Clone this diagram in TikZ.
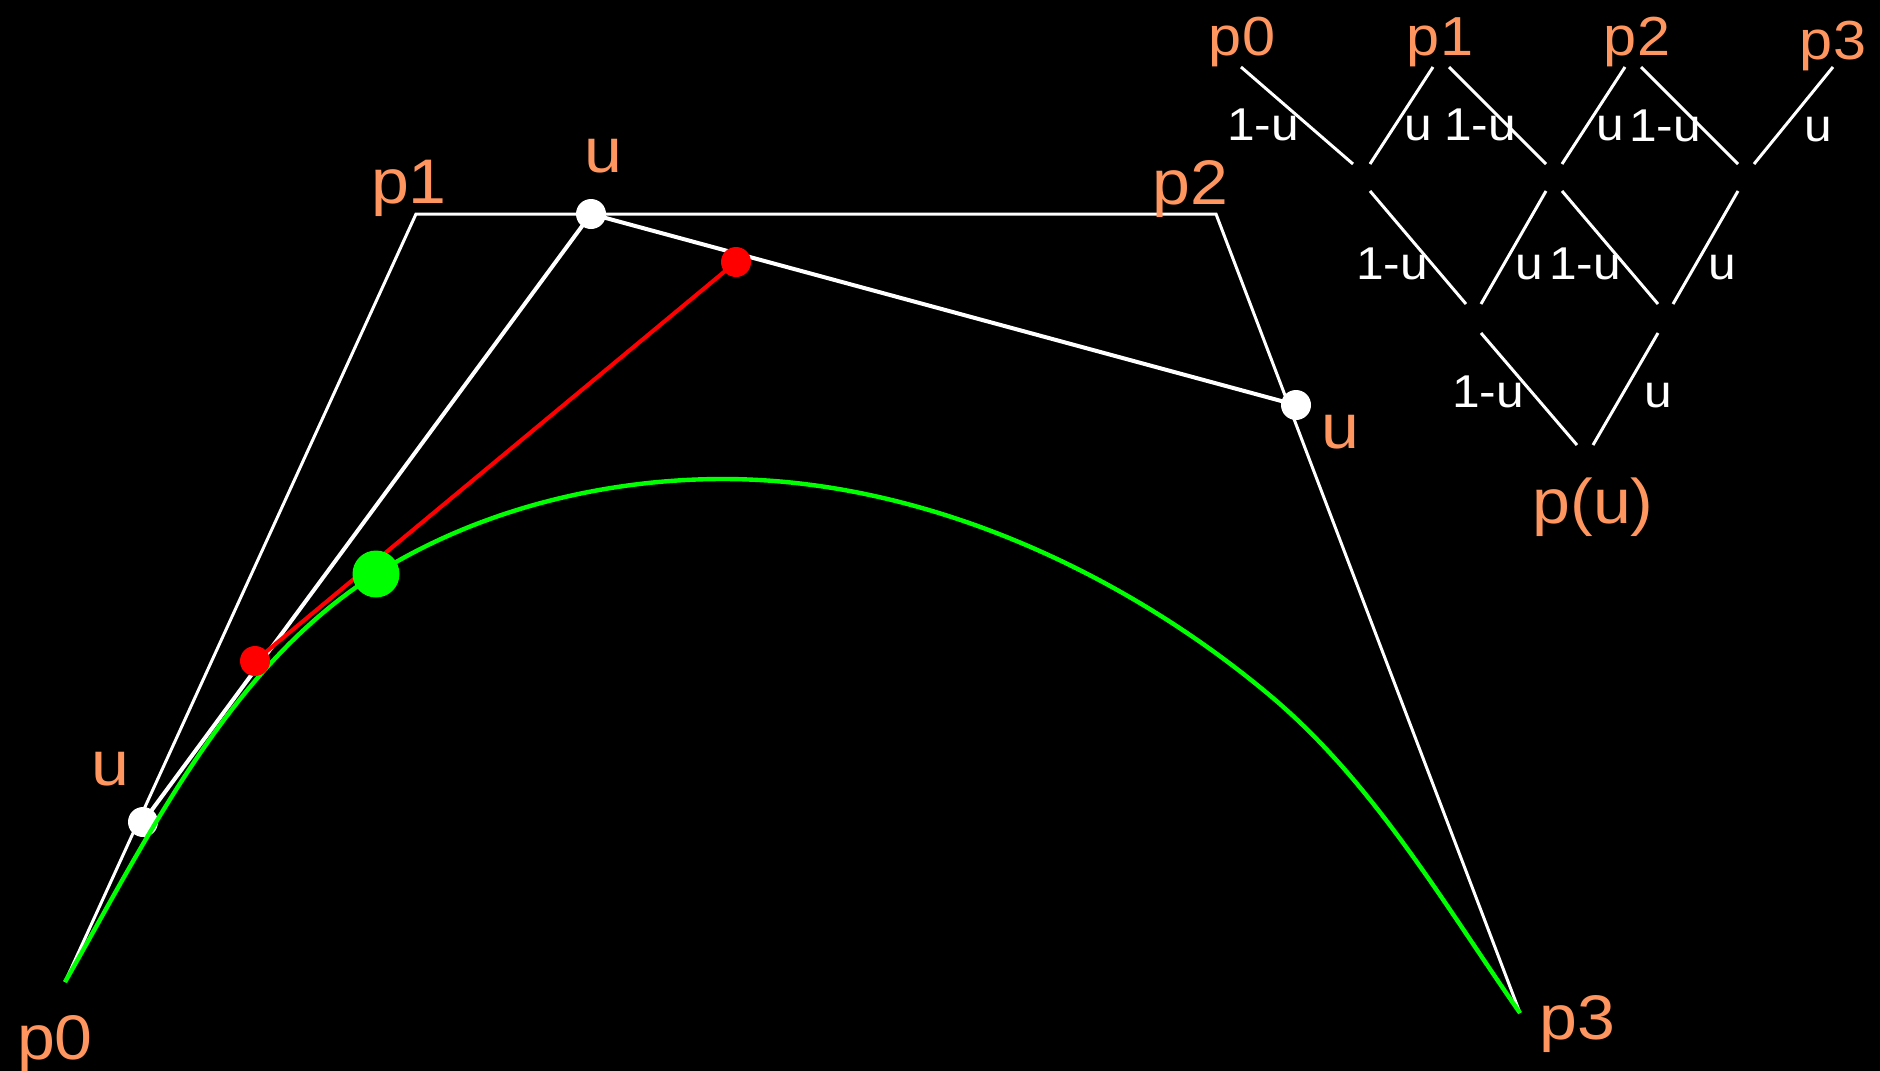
\documentclass[tikz,border=0pt]{standalone}
\usepackage{fontspec}
\setmainfont{Liberation Sans}[FakeStretch=1.08]
\definecolor{lab}{RGB}{255,150,95}
\definecolor{grn}{RGB}{0,255,0}
\definecolor{rd}{RGB}{255,0,0}
\begin{document}
\begin{tikzpicture}[x=0.5pt,y=-0.5pt,
  ctrl/.style={white, line width=1.5pt, line join=miter},
  mid/.style={white, line width=2pt},
  redline/.style={rd, line width=2pt},
  curve/.style={grn, line width=2.2pt},
  wdot/.style={circle, fill=white, inner sep=0pt, minimum size=15pt},
  rdot/.style={circle, fill=rd, inner sep=0pt, minimum size=15pt},
  gdot/.style={circle, fill=grn, inner sep=0pt, minimum size=23.5pt},
  biglab/.style={text=lab, inner sep=0pt, anchor=base, font=\fontsize{31.5pt}{36pt}\selectfont},
  toplab/.style={text=lab, inner sep=0pt, anchor=base, font=\fontsize{27.5pt}{32pt}\selectfont},
  wlab/.style={text=white, inner sep=0pt, anchor=base, font=\fontsize{23pt}{28pt}\selectfont},
  tree/.style={white, line width=1.5pt}]
\fill[black] (0,0) rectangle (1880,1071);
\useasboundingbox (0,0) rectangle (1880,1071);

% control points
\coordinate (P0) at (65,982);
\coordinate (P1) at (416,214);
\coordinate (P2) at (1216,214);
\coordinate (P3) at (1520,1013);
% first-level points
\coordinate (A) at (143,822);
\coordinate (B) at (591,214);
\coordinate (C) at (1296,405);
% second-level points
\coordinate (D) at (255,661);
\coordinate (E) at (736,262);
% curve point
\coordinate (G) at (376,574);
\coordinate (M) at (723,479);
\coordinate (Q) at (1267,693);

\draw[ctrl] (P0) -- (P1) -- (P2) -- (P3);
\draw[mid] (A) -- (B) -- (C);
\node[wdot] (a) at (A) {};
\node[wdot] (b) at (B) {};
\node[wdot] (c) at (C) {};
\draw[curve] (P0) .. controls (150,833) and (231,665) .. (G)
  .. controls (478,510) and (603,479) .. (M)
  .. controls (918,479) and (1117,568) .. (Q)
  .. controls (1372,780) and (1442,901) .. (P3);
\draw[redline] (D) -- (E);
\node[rdot] (d) at (D) {};
\node[rdot] (e) at (E) {};
\node[gdot] (g) at (G) {};

% labels of the main figure
\node[biglab] (lp1) at (409,203) {p1};
\node[biglab] (lu1) at (603,172) {u};
\node[biglab] (lp2) at (1190,204) {p2};
\node[biglab] (lu2) at (1340,448) {u};
\node[biglab] (lu0) at (110,785) {u};
\node[biglab] (lp0) at (55,1059) {p0};
\node[biglab] (lp3) at (1577,1039) {p3};

% de Casteljau triangle
\node[toplab] (tp0) at (1242,55) {p0};
\node[toplab] (tp1) at (1440,55) {p1};
\node[toplab] (tp2) at (1637,55) {p2};
\node[toplab] (tp3) at (1833,59) {p3};
\node[biglab] (tpu) at (1593,523) {p(u)};

\coordinate (r1a) at (1241,67);  \coordinate (r1b) at (1353,164);
\coordinate (r1c) at (1433,67);  \coordinate (r1d) at (1370,164);
\coordinate (r1e) at (1449,67);  \coordinate (r1f) at (1546,164);
\coordinate (r1g) at (1625,67);  \coordinate (r1h) at (1562,164);
\coordinate (r1i) at (1641,67);  \coordinate (r1j) at (1738,164);
\coordinate (r1k) at (1833,67);  \coordinate (r1l) at (1754,164);
\draw[tree] (r1a) -- (r1b);
\draw[tree] (r1c) -- (r1d);
\draw[tree] (r1e) -- (r1f);
\draw[tree] (r1g) -- (r1h);
\draw[tree] (r1i) -- (r1j);
\draw[tree] (r1k) -- (r1l);

\coordinate (r2a) at (1370,191); \coordinate (r2b) at (1466,304);
\coordinate (r2c) at (1546,191); \coordinate (r2d) at (1481,304);
\coordinate (r2e) at (1562,191); \coordinate (r2f) at (1658,304);
\coordinate (r2g) at (1738,191); \coordinate (r2h) at (1673,304);
\draw[tree] (r2a) -- (r2b);
\draw[tree] (r2c) -- (r2d);
\draw[tree] (r2e) -- (r2f);
\draw[tree] (r2g) -- (r2h);

\coordinate (r3a) at (1481,333); \coordinate (r3b) at (1577,445);
\coordinate (r3c) at (1658,333); \coordinate (r3d) at (1593,445);
\draw[tree] (r3a) -- (r3b);
\draw[tree] (r3c) -- (r3d);

\node[wlab] (w1) at (1263,140) {1-u};
\node[wlab] (w2) at (1418,140) {u};
\node[wlab] (w3) at (1480,140) {1-u};
\node[wlab] (w4) at (1610,140) {u};
\node[wlab] (w5) at (1665,141) {1-u};
\node[wlab] (w6) at (1818,141) {u};
\node[wlab] (w7) at (1392,279) {1-u};
\node[wlab] (w8) at (1529,279) {u};
\node[wlab] (w9) at (1585,279) {1-u};
\node[wlab] (w10) at (1722,279) {u};
\node[wlab] (w11) at (1488,407) {1-u};
\node[wlab] (w12) at (1658,407) {u};
\end{tikzpicture}
\end{document}
